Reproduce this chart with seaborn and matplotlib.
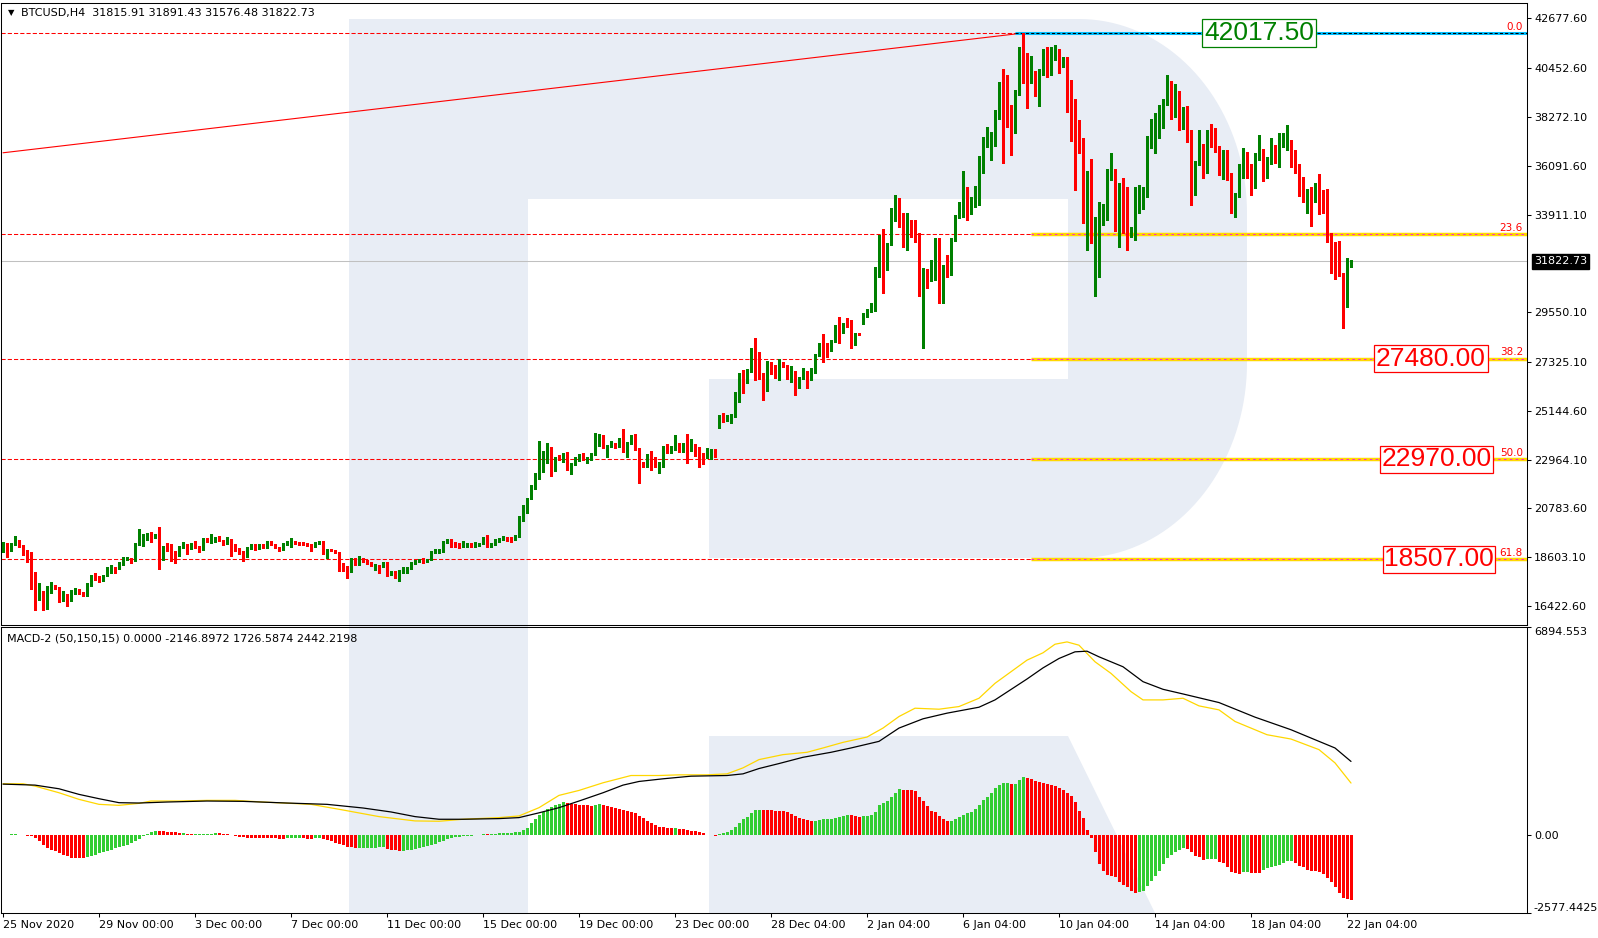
import numpy as np
import pandas as pd
import matplotlib
matplotlib.use("Agg")
import matplotlib.pyplot as plt
import matplotlib.transforms as mtransforms
from matplotlib.patches import Polygon
import seaborn as sns

# ------------------------------------------------------------------ data
symbol_header = "BTCUSD,H4  31815.91 31891.43 31576.48 31822.73"
macd_header = "MACD-2 (50,150,15) 0.0000 -2146.8972 1726.5874 2442.2198"

first_open = 18898
gap_open_bars = [179, 215]
gap_open_values = [24392, 29261]

close = [
    19225, 18898, 19195, 19270, 19076, 18853, 18838, 17915, 17066, 17110,
    16694, 17066, 17364, 17230, 16664, 16962, 16694, 17051, 17200, 16991,
    16902, 17408, 17796, 17691, 17557, 17796, 18108, 18153, 18123, 18332,
    18540, 18555, 18451, 19195, 19374, 19389, 19627, 19463, 19597, 18748,
    19076, 19046, 18823, 18704, 19061, 19150, 18972, 19165, 19046, 18912,
    19359, 19285, 19329, 19493, 19344, 19210, 19434, 19016, 18987, 18793,
    18689, 19016, 19180, 18972, 19165, 19046, 19300, 19165, 19031, 18927,
    19165, 19285, 19329, 19225, 19195, 19180, 19165, 19076, 19255, 19314,
    18763, 18957, 18897, 18823, 18183, 18153, 18004, 18525, 18287, 18525,
    18451, 18362, 18227, 18227, 18183, 18362, 17855, 17944, 17766, 18004,
    18019, 18138, 18332, 18406, 18466, 18436, 18510, 18853, 18897, 18927,
    19285, 19329, 19255, 19150, 19061, 19121, 19195, 19150, 19180, 19225,
    19463, 19121, 19225, 19374, 19419, 19478, 19404, 19389, 19553, 20401,
    20669, 21235, 21786, 22322, 22680, 22858, 23037, 22784, 23052, 22977,
    23230, 22545, 22769, 22918, 23126, 22962, 23052, 23215, 23990, 24064,
    23498, 23573, 23632, 23573, 23766, 23320, 23722, 23930, 23439, 22828,
    22680, 23171, 22769, 22709, 22843, 23543, 23305, 23498, 23707, 23498,
    23662, 23588, 23617, 23245, 23171, 23052, 23349, 23394, 23215, 24913,
    24704, 24943, 24973, 25747, 26700, 26611, 26923, 27817, 27489, 26745,
    26343, 27057, 26879, 26789, 27236, 27117, 26611, 26849, 26402, 26611,
    26879, 26566, 26923, 27638, 28040, 27861, 27831, 28263, 28948, 28755,
    29023, 28978, 28531, 28606, 28546, 29469, 29678, 29708, 31554, 32953,
    31733, 32596, 33713, 34234, 33892, 32879, 33608, 33191, 32879, 30988,
    31434, 31018, 31077, 32820, 30467, 31613, 31494, 32820, 33847, 33891,
    35097, 33995, 34666, 35008, 35946, 37018, 37510, 37569, 38284, 39818,
    39728, 38656, 37971, 39445, 41366, 41053, 40041, 40294, 39356, 40368,
    41143, 40487, 40860, 41262, 40562, 40860, 39847, 38582, 38060, 37212,
    34889, 35753, 32655, 32820, 33995, 34353, 35931, 35961, 33221, 35008,
    34710, 33042, 33310, 34338, 34561, 34830, 37331, 37465, 37554, 37941,
    39028, 39430, 38730, 39177, 37792, 38686, 37613, 35901, 36259, 37018,
    35827, 37465, 37167, 36899, 35901, 36765, 35529, 34115, 34859, 35857,
    36571, 36080, 35335, 36616, 36795, 35678, 36259, 36973, 36303, 37093,
    37152, 37197, 36497, 36080, 35514, 34785, 35008, 34829, 34934, 34785,
    34591, 32849, 32298, 31911, 31211, 30020, 31821, 31822.73]

high = [
    19270, 19225, 19225, 19553, 19374, 19136, 18927, 18838, 17944, 17438,
    17110, 17319, 17498, 17379, 17289, 17096, 16962, 17140, 17244, 17200,
    17051, 17438, 17825, 17885, 17766, 17825, 18183, 18257, 18183, 18406,
    18629, 18629, 18555, 19225, 19865, 19642, 19702, 19716, 19642, 19955,
    19106, 19255, 19210, 18897, 19106, 19300, 19195, 19225, 19329, 19106,
    19478, 19448, 19642, 19523, 19538, 19374, 19493, 19434, 19180, 19031,
    18867, 19046, 19210, 19180, 19195, 19180, 19344, 19314, 19195, 19076,
    19225, 19314, 19448, 19344, 19300, 19270, 19255, 19195, 19285, 19344,
    19329, 18987, 18987, 18927, 18823, 18332, 18213, 18555, 18555, 18659,
    18555, 18480, 18406, 18302, 18272, 18391, 18391, 17989, 17974, 18034,
    18168, 18168, 18406, 18480, 18510, 18555, 18540, 18897, 18987, 18957,
    19314, 19404, 19404, 19300, 19225, 19344, 19225, 19255, 19285, 19255,
    19493, 19582, 19255, 19404, 19478, 19553, 19508, 19523, 19582, 20431,
    20938, 21265, 21816, 22352, 23796, 23350, 23722, 23528, 23096, 23171,
    23275, 23290, 22799, 23096, 23215, 23245, 23081, 23245, 24138, 24109,
    24064, 23603, 23796, 23722, 23915, 24317, 23752, 24064, 24094, 23498,
    22873, 23201, 23364, 23096, 22873, 23573, 23662, 23573, 24064, 23722,
    23692, 24109, 23871, 23647, 23513, 23245, 23469, 23424, 23424, 24943,
    25032, 24973, 25002, 26000, 26849, 26968, 26998, 27936, 28382, 27757,
    26819, 27370, 27325, 27176, 27474, 27340, 27176, 27146, 26923, 26640,
    27042, 26909, 27042, 27668, 28189, 28576, 28189, 28293, 28978, 29350,
    29082, 29276, 29201, 28636, 28621, 29499, 29708, 29946, 31584, 32983,
    33251, 32626, 34189, 34785, 34636, 33966, 33995, 33668, 33668, 33072,
    31509, 31464, 31881, 32849, 32864, 31643, 32104, 32849, 33876, 34487,
    35872, 35127, 34695, 35187, 36527, 37360, 37822, 37599, 38582, 39847,
    40413, 40145, 38805, 39475, 41411, 42017.5, 41113, 40994, 40339, 40398,
    41292, 41411, 41411, 41485, 41292, 40964, 40934, 39922, 39058, 38135,
    37316, 35872, 36378, 33817, 34487, 34383, 35961, 36646, 35961, 35306,
    35529, 35157, 33340, 35157, 35231, 35157, 37420, 38165, 38432, 38805,
    39058, 40145, 39892, 39743, 39445, 38730, 38760, 37688, 36289, 37688,
    37048, 37688, 37956, 37762, 36973, 36795, 36795, 35782, 34889, 36155,
    36869, 36720, 36155, 36646, 37465, 36824, 36497, 37316, 37003, 37569,
    37539, 37911, 37227, 36795, 36155, 35604, 35038, 35157, 35336, 35723,
    35008, 35068, 33072, 32700, 32730, 31286, 31970, 31891.43]

low = [
    18853, 18629, 18867, 19165, 19046, 18719, 18406, 17200, 16262, 16694,
    16232, 16307, 17021, 17200, 16619, 16634, 16441, 16664, 16962, 16962,
    16872, 16872, 17319, 17587, 17513, 17557, 17766, 17885, 17885, 18079,
    18257, 18480, 18332, 18451, 19165, 19106, 19389, 19300, 19463, 18093,
    18480, 18867, 18451, 18332, 18674, 19031, 18733, 18972, 19031, 18853,
    18912, 19270, 19225, 19285, 19329, 19150, 19195, 18659, 18897, 18763,
    18451, 18629, 18987, 18942, 18957, 19016, 19016, 19136, 19001, 18897,
    18927, 19136, 19046, 19195, 19150, 19136, 19121, 18897, 19076, 19195,
    18733, 18585, 18867, 18808, 18004, 18004, 17661, 17959, 18257, 18257,
    18406, 18317, 18198, 18049, 17915, 18153, 17781, 17825, 17691, 17557,
    17915, 17900, 18079, 18317, 18376, 18362, 18376, 18480, 18778, 18808,
    18853, 19240, 19076, 19076, 19001, 19061, 19076, 19046, 19046, 19106,
    19195, 19046, 19076, 19150, 19300, 19374, 19344, 19300, 19359, 19523,
    20237, 20565, 21190, 21667, 22084, 22412, 22799, 22248, 22471, 22947,
    22873, 22516, 22322, 22724, 22903, 22932, 22799, 22947, 23171, 23573,
    23469, 23096, 23513, 23498, 23543, 23290, 23096, 23662, 23409, 21935,
    22650, 22620, 22501, 22620, 22352, 22620, 23245, 23275, 23409, 23320,
    23320, 22799, 23364, 23126, 22650, 22769, 23022, 22977, 23096, 24362,
    24660, 24675, 24585, 24883, 25553, 25925, 26402, 26864, 26521, 26551,
    25643, 26045, 26789, 26611, 26521, 27087, 26581, 26417, 25851, 26149,
    26551, 26164, 26521, 26849, 27578, 27340, 27563, 27802, 28204, 28189,
    28606, 28904, 27965, 28085, 28516, 29023, 29320, 29574, 29588, 31137,
    30392, 31435, 32566, 33638, 33370, 32477, 32328, 32924, 32700, 30273,
    27935, 30615, 30958, 30988, 29975, 29945, 31136, 31211, 32745, 33772,
    33817, 33668, 33936, 34264, 34338, 35753, 36944, 36348, 36974, 38180,
    36199, 37837, 36571, 37569, 39252, 39803, 38656, 39773, 39207, 38775,
    40145, 40041, 40145, 40815, 40249, 40517, 38507, 37212, 35008, 36646,
    33519, 32328, 32626, 30273, 31137, 33444, 33668, 35455, 33191, 32477,
    33072, 32328, 32923, 32774, 33995, 34144, 34710, 36869, 36675, 37316,
    37762, 38805, 38194, 38284, 37688, 37748, 37167, 34338, 34785, 36125,
    35529, 35752, 36914, 36720, 35678, 35484, 35455, 33995, 33817, 34710,
    35529, 35529, 34785, 35082, 36348, 35425, 35529, 36169, 36199, 36050,
    36914, 36795, 36050, 35753, 34740, 34487, 33995, 33400, 34487, 33936,
    33966, 32700, 31286, 31017, 31166, 28829, 29767, 31576.48]

macd_hist = [
    15, 20, 25, 28, 10, -5, -15, -30, -80, -190,
    -330, -420, -500, -540, -590, -640, -690, -740, -755, -760,
    -765, -720, -680, -640, -600, -560, -520, -480, -440, -400,
    -360, -320, -270, -200, -120, -40, 50, 100, 150, 148,
    140, 120, 110, 90, 70, 72, 55, 45, 47, 48,
    50, 52, 55, 60, 58, 40, 30, 10, -20, -50,
    -70, -80, -90, -92, -100, -102, -104, -106, -110, -112,
    -114, -105, -104, -103, -102, -110, -112, -114, -105, -104,
    -130, -160, -200, -250, -300, -340, -380, -400, -420, -418,
    -416, -414, -412, -410, -408, -406, -450, -480, -500, -515,
    -510, -495, -475, -455, -430, -400, -370, -330, -290, -240,
    -185, -130, -80, -60, -50, -40, -30, -20, -10, 10,
    30, 25, 50, 55, 60, 65, 70, 75, 90, 120,
    176, 253, 417, 549, 670, 780, 856, 944, 999, 1043,
    1087, 1054, 1032, 1021, 1010, 999, 988, 966, 999, 1021,
    988, 955, 933, 889, 856, 824, 791, 769, 747, 637,
    560, 483, 406, 340, 275, 264, 242, 231, 235, 198,
    196, 187, 154, 132, 110, 77, 22, 5, -22, 33,
    77, 121, 187, 285, 417, 527, 615, 747, 845, 850,
    824, 820, 818, 816, 815, 791, 758, 692, 637, 582,
    527, 494, 461, 465, 494, 527, 530, 535, 571, 604,
    637, 659, 655, 637, 604, 626, 637, 659, 769, 988,
    1076, 1131, 1274, 1405, 1515, 1510, 1505, 1500, 1449, 1263,
    1131, 966, 791, 780, 626, 527, 461, 465, 527, 615,
    681, 725, 758, 878, 1010, 1153, 1263, 1405, 1570, 1658,
    1713, 1715, 1691, 1700, 1812, 1943, 1900, 1867, 1790, 1760,
    1735, 1702, 1658, 1625, 1570, 1482, 1405, 1296, 1098, 802,
    560, 165, -110, -571, -955, -1175, -1318, -1340, -1373, -1559,
    -1636, -1724, -1834, -1921, -1889, -1834, -1669, -1504, -1340, -1175,
    -955, -769, -659, -571, -494, -439, -461, -571, -703, -736,
    -813, -805, -800, -798, -878, -933, -1043, -1230, -1263, -1270,
    -1230, -1208, -1240, -1250, -1255, -1150, -1098, -1065, -1032, -988,
    -933, -867, -856, -933, -1010, -1065, -1142, -1175, -1197, -1230,
    -1285, -1427, -1559, -1724, -1911, -2086, -2130, -2146.8972]

black_bars = [0, 8, 14, 19, 24, 29, 34, 41, 51, 60, 71, 81, 90, 97, 103, 109, 115, 124,
              129, 134, 139, 144, 150, 155, 159, 165, 172, 181, 185, 189, 194, 200, 207,
              212, 219, 224, 230, 236, 244, 248, 256, 260, 264, 268, 271, 274, 280, 285,
              290, 295, 304, 313, 322, 328, 333, 337]
black_vals = [1691, 1658, 1537, 1351, 1208, 1076, 1065, 1098, 1131, 1120, 1065, 1021, 900,
              769, 615, 527, 527, 549, 582, 740, 911, 1131, 1405, 1658, 1779, 1867, 1954,
              1976, 2031, 2207, 2372, 2580, 2745, 2888, 3107, 3547, 3854, 4041, 4238, 4480,
              5172, 5540, 5852, 6072, 6094, 5907, 5578, 5084, 4831, 4677, 4392, 3909, 3492,
              3162, 2888, 2442.2198]
yellow_bars = [0, 5, 8, 14, 19, 24, 29, 34, 37, 44, 51, 58, 65, 77, 85, 94, 103, 109, 115,
               124, 129, 134, 139, 144, 150, 157, 164, 169, 176, 181, 185, 189, 195, 201,
               205, 210, 216, 220, 224, 228, 234, 239, 244, 248, 256, 260, 263, 266, 269,
               273, 277, 282, 285, 290, 295, 299, 304, 308, 316, 322, 329, 333, 337]
yellow_vals = [1702, 1702, 1625, 1405, 1186, 1021, 988, 1054, 1131, 1131, 1153, 1153, 1098,
               1021, 834, 615, 472, 461, 527, 582, 637, 911, 1318, 1482, 1735, 1976, 1976,
               1998, 1998, 2031, 2229, 2503, 2668, 2745, 2888, 3074, 3250, 3547, 3930, 4205,
               4172, 4260, 4535, 5029, 5797, 6040, 6324, 6401, 6292, 5743, 5358, 4754, 4480,
               4480, 4535, 4282, 4150, 3766, 3327, 3184, 2833, 2394, 1726.5874]

date_tick_bars = [0, 24, 48, 72, 96, 120, 144, 168, 192, 216, 240, 264, 288, 312, 336]
date_tick_labels = ["25 Nov 2020", "29 Nov 00:00", "3 Dec 00:00", "7 Dec 00:00",
                    "11 Dec 00:00", "15 Dec 00:00", "19 Dec 00:00", "23 Dec 00:00",
                    "28 Dec 04:00", "2 Jan 04:00", "6 Jan 04:00", "10 Jan 04:00",
                    "14 Jan 04:00", "18 Jan 04:00", "22 Jan 04:00"]
price_ticks = [42677.60, 40452.60, 38272.10, 36091.60, 33911.10, 29550.10, 27325.10,
               25144.60, 22964.10, 20783.60, 18603.10, 16422.60]
macd_ticks = [6894.553, 0.0, -2577.4425]
macd_tick_labels = ["6894.553", "0.00", "-2577.4425"]
last_price = 31822.73

fib_levels = [42017.5, 33030.0, 27480.0, 22970.0, 18507.0]
fib_names = ["0.0", "23.6", "38.2", "50.0", "61.8"]
fib_start_bars = [253.0, 257.0, 257.0, 257.0, 257.0]
box_levels = [42017.5, 27480.0, 22970.0, 18507.0]
box_texts = ["42017.50", "27480.00", "22970.00", "18507.00"]
box_bars = [314.0, 357.0, 358.3, 359.0]
box_colors = ["#008000", "#FF0000", "#FF0000", "#FF0000"]
trend_bars = [0, 255]
trend_prices = [36670, 42017.5]

# ------------------------------------------------------------------ style
sns.set_theme(style="white", rc={
    "axes.edgecolor": "black", "axes.linewidth": 0.75,
    "xtick.color": "black", "ytick.color": "black",
    "text.color": "black", "axes.labelcolor": "black"})
plt.rcParams["font.family"] = ["DejaVu Sans"]

W, H = 1598, 938
fig = plt.figure(figsize=(W / 100, H / 100), dpi=100)
fig.patch.set_facecolor("white")


def fr(px, py):
    return px / W, 1 - py / H


ax = fig.add_axes([1 / W, 1 - 625 / H, 1526 / W, 622 / H])
axm = fig.add_axes([1 / W, 1 - 913 / H, 1526 / W, 286 / H])
for a in (ax, axm):
    a.set_facecolor("none")
    for s in a.spines.values():
        s.set_color("black")
        s.set_linewidth(0.75)

# ------------------------------------------------------------------ watermark (decor)
t1 = np.radians(np.linspace(90, 0, 40))
t2 = np.radians(np.linspace(0, -90, 40))
top_curve = list(zip(1079 + 168 * np.cos(t1), 213 - 194 * np.sin(t1)))
bot_curve = list(zip(1079 + 168 * np.cos(t2), 363 - 195 * np.sin(t2)))
wm = [(349, 19)] + top_curve + bot_curve + [(709, 558), (709, 379), (1068, 379),
                                            (1068, 199), (528, 199), (528, 913), (349, 913)]
leg = [(709, 736), (1068, 736), (1155, 913), (709, 913)]
for poly in (wm, leg):
    fig.add_artist(Polygon([fr(x, y) for x, y in poly], closed=True,
                           transform=fig.transFigure, facecolor="#E8EDF5",
                           edgecolor="none", zorder=-10))

# ------------------------------------------------------------------ candles
c = np.array(close, dtype=float)
hi = np.array(high, dtype=float)
lo = np.array(low, dtype=float)
o = np.r_[first_open, c[:-1]]
for b, v in zip(gap_open_bars, gap_open_values):
    o[b] = v
hi = np.maximum(hi, np.maximum(o, c))
lo = np.minimum(lo, np.minimum(o, c))
bars = np.arange(len(c))
cols = np.where(c >= o, "#008000", "#FF0000")
body = np.abs(c - o)
minh = 45.0
bh = np.maximum(body, minh)
bottom = np.minimum(o, c) - (bh - body) / 2

ax.vlines(bars, lo, hi, colors=cols, linewidth=0.75, zorder=3, antialiased=False)
ax.bar(bars, bh, bottom=bottom, width=0.75, color=cols, linewidth=0,
       antialiased=False, zorder=4)

# levels
ymin, ymax = 15576.3, 43361.1
for lvl in fib_levels:
    ax.axhline(lvl, color="#FF0000", lw=0.75, ls=(0, (4, 2)), zorder=2)
ax.axhline(last_price, color="#C0C0C0", lw=0.75, zorder=2)
ax.plot(trend_bars, trend_prices, color="#FF0000", lw=0.8, zorder=2.5)

for lvl, name, sb in zip(fib_levels, fib_names, fib_start_bars):
    if name == "0.0":
        ax.plot([sb, 381], [lvl, lvl], color="#00BFFF", lw=2.2, zorder=2.6,
                solid_capstyle="butt")
        ax.plot([sb, 381], [lvl, lvl], color="black", lw=0.75, ls=(0, (3, 2)), zorder=2.7)
    else:
        ax.plot([sb, 381], [lvl, lvl], color="#FFD700", lw=2.5, zorder=2.6,
                solid_capstyle="butt")
        ax.plot([sb, 381], [lvl, lvl], color="#FF00FF", lw=0.6, ls=(0, (3, 4)), zorder=2.7)
    ax.text(380, lvl + 60, name, ha="right", va="bottom", color="#FF0000",
            fontsize=7.5, zorder=6)

for lvl, txt, bx, col in zip(box_levels, box_texts, box_bars, box_colors):
    ax.text(bx, lvl, txt, ha="center", va="center", color=col, fontsize=19,
            family="Liberation Sans", zorder=7,
            bbox=dict(boxstyle="square,pad=0.06", fc="white", ec=col, lw=0.9))

ax.set_xlim(-0.5, 381)
ax.set_ylim(ymin, ymax)
ax.set_xticks([])
ax.yaxis.tick_right()
ax.set_yticks(price_ticks)
ax.set_yticklabels([f"{v:.2f}" for v in price_ticks])
ax.tick_params(axis="y", direction="out", length=3, width=0.75, pad=2, labelsize=8,
               right=True, left=False, labelright=True, labelleft=False)

blend = mtransforms.blended_transform_factory(ax.transAxes, ax.transData)
ax.text(1.0045, last_price, f"{last_price:.2f}", transform=blend, ha="left",
        va="center", color="white", fontsize=8, zorder=8,
        bbox=dict(boxstyle="square,pad=0.2", fc="black", ec="black"))

# ------------------------------------------------------------------ MACD panel
hv = np.array(macd_hist, dtype=float)
rising = np.r_[True, np.diff(hv) > 0]
dfh = pd.DataFrame({"bar": np.arange(len(hv)), "value": hv,
                    "trend": np.where(rising, "up", "down")})
sns.barplot(data=dfh, x="bar", y="value", hue="trend", hue_order=["up", "down"],
            palette={"up": "#32CD32", "down": "#FF0000"}, native_scale=True,
            width=0.75, dodge=False, errorbar=None, saturation=1, legend=False,
            linewidth=0, ax=axm)
for p in axm.patches:
    p.set_antialiased(False)

sns.lineplot(x=yellow_bars, y=yellow_vals, color="#FFD700", linewidth=0.9, ax=axm, zorder=4)
sns.lineplot(x=black_bars, y=black_vals, color="black", linewidth=0.9, ax=axm, zorder=5)

axm.set_xlim(-0.5, 381)
axm.set_ylim(-2577.4425, 6894.553)
axm.set_xlabel("")
axm.set_ylabel("")
axm.yaxis.tick_right()
axm.set_yticks(macd_ticks)
axm.set_yticklabels(macd_tick_labels)
labs = axm.get_yticklabels()
labs[0].set_va("top")
labs[2].set_va("bottom")
axm.tick_params(axis="y", direction="out", length=3, width=0.75, pad=2, labelsize=8,
                right=True, left=False, labelright=True, labelleft=False)
axm.set_xticks(date_tick_bars)
axm.set_xticklabels(date_tick_labels, ha="left")
axm.tick_params(axis="x", direction="out", length=3, width=0.75, pad=2, labelsize=8,
                bottom=True)

# ------------------------------------------------------------------ headers
fig.text(*fr(8, 13), "\u25BC", fontsize=6, va="center", ha="left")
fig.text(*fr(21, 13), symbol_header, fontsize=8, va="center", ha="left")
fig.text(*fr(7, 638), macd_header, fontsize=8, va="center", ha="left")

fig.savefig("out.png", dpi=100, facecolor="white")
